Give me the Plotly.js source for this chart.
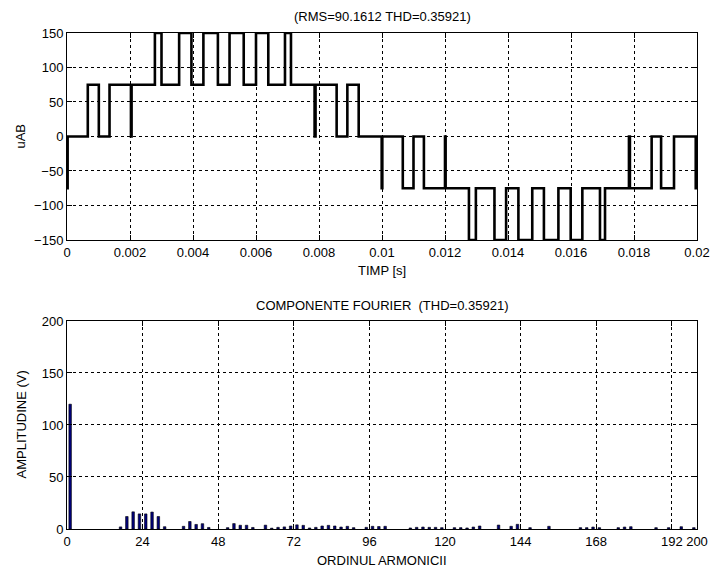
<!DOCTYPE html>
<html>
<head>
<meta charset="utf-8">
<script src="https://cdn.plot.ly/plotly-3.0.1.min.js"></script>
<style>
  html, body { margin: 0; padding: 0; background: #ffffff; }
  #chart { width: 710px; height: 567px; }
</style>
</head>
<body>
<div id="chart"></div>
<script>
// Line-to-line voltage uAB over one period (switching instants and levels, step-after)
const timeS = [0, 0.00002, 0.00066, 0.00101, 0.00135, 0.00203, 0.00205, 0.00279, 0.0030,
  0.00356, 0.00395, 0.00433, 0.00479, 0.00516, 0.00561, 0.0060, 0.00639, 0.00692, 0.00711,
  0.00786, 0.00789, 0.00856, 0.0089, 0.00926, 0.00999, 0.01001, 0.01066, 0.0110, 0.01133,
  0.0120, 0.01202, 0.01276, 0.01298, 0.01357, 0.01394, 0.01433, 0.01477, 0.01514, 0.0156,
  0.01599, 0.01636, 0.01692, 0.01708, 0.01784, 0.01787, 0.01856, 0.01886, 0.01927, 0.01996, 0.02];
const uAB = [-75, 0, 75, 0, 75, 0, 75, 150, 75,
  150, 75, 150, 75, 150, 75, 150, 75, 150, 75,
  0, 75, 0, 75, 0, -75, 0, -75, 0, -75,
  0, -75, -150, -75, -150, -75, -150, -75, -150, -75,
  -150, -75, -150, -75, 0, -75, 0, -75, 0, -75, -75];

// Fourier spectrum: harmonic order and amplitude (V)
const harmonicOrder = [1, 17, 19, 21, 23, 25, 27, 29, 31, 37, 39, 41, 43, 45, 51, 53, 55, 57, 59,
  63, 65, 67, 69, 71, 73, 75, 77, 79, 81, 83, 85, 87, 89, 91, 95, 97, 99, 101, 109, 111, 113,
  115, 117, 119, 123, 125, 127, 129, 131, 137, 141, 143, 147, 153, 163, 165, 167, 169, 175,
  177, 179, 187, 191, 195, 199];
const amplitudeV = [120, 2, 12, 16.5, 14.5, 14.5, 16.3, 12, 2.2, 2.6, 7.2, 4.4, 5.1, 1.5, 1.3, 5.2,
  3.6, 3.6, 1.5, 3.7, 0.8, 1.6, 2, 2.9, 4, 3.5, 1, 1.6, 2.9, 3.5, 2.9, 1.9, 2.6, 1.3, 1.6, 2.6,
  2.4, 2.6, 1, 1.6, 1.9, 1.6, 1.6, 1.3, 1.3, 1.3, 1, 1.9, 2.9, 3.8, 2.6, 4.5, 1.3, 2.6, 1.3,
  1.3, 1.9, 1.3, 1.3, 1.9, 2.2, 1.3, 1.3, 2.2, 1.3];

// Axis ticks
const timeTicks = [0, 0.002, 0.004, 0.006, 0.008, 0.01, 0.012, 0.014, 0.016, 0.018, 0.02];
const timeTickText = ['0', '0.002', '0.004', '0.006', '0.008', '0.01', '0.012', '0.014', '0.016', '0.018', '0.02'];
const voltTicks = [-150, -100, -50, 0, 50, 100, 150];
const orderTicks = [0, 24, 48, 72, 96, 120, 144, 168, 192, 200];
const ampTicks = [0, 50, 100, 150, 200];

// Labels
const topTitle = '(RMS=90.1612 THD=0.35921)';
const topXTitle = 'TIMP [s]';
const topYTitle = 'uAB';
const bottomTitle = 'COMPONENTE FOURIER  (THD=0.35921)';
const bottomXTitle = 'ORDINUL ARMONICII';
const bottomYTitle = 'AMPLITUDINE (V)';

const FONT = '"Liberation Sans Narrow", "Arial Narrow", "Liberation Sans", Arial, sans-serif';

function axisStyle(extra) {
  return Object.assign({
    showline: true, linecolor: '#000', linewidth: 1, mirror: 'ticks',
    ticks: 'inside', ticklen: 5, tickcolor: '#000', tickwidth: 1,
    showgrid: true, gridcolor: '#000', griddash: 'dot', gridwidth: 1,
    zeroline: false, tickangle: 0, fixedrange: true,
    tickfont: { family: FONT, size: 13, color: '#000' }
  }, extra);
}

const traces = [
  {
    x: timeS, y: uAB, type: 'scatter', mode: 'lines',
    line: { shape: 'hv', color: '#000', width: 2.6 },
    xaxis: 'x', yaxis: 'y', hoverinfo: 'skip'
  },
  {
    x: harmonicOrder, y: amplitudeV, type: 'bar', width: 0.8,
    marker: { color: '#00007c', line: { color: '#000', width: 0.6 } },
    xaxis: 'x2', yaxis: 'y2', hoverinfo: 'skip'
  }
];

const textFont = { family: FONT, size: 13, color: '#000' };
function label(text, x, y, angle) {
  return { text: text, x: x, y: y, xref: 'paper', yref: 'paper', showarrow: false,
    font: textFont, textangle: angle || 0, xanchor: 'center', yanchor: 'middle' };
}

const layout = {
  width: 710, height: 567,
  margin: { l: 67, r: 13, t: 33, b: 38 },
  paper_bgcolor: '#fff', plot_bgcolor: '#fff',
  showlegend: false,
  bargap: 0,
  xaxis: axisStyle({ domain: [0, 1], range: [0, 0.02], tickvals: timeTicks, ticktext: timeTickText, anchor: 'y' }),
  yaxis: axisStyle({ domain: [0.5827, 1], range: [-150, 150], tickvals: voltTicks, anchor: 'x' }),
  xaxis2: axisStyle({ domain: [0, 1], range: [0, 200], tickvals: orderTicks, anchor: 'y2' }),
  yaxis2: axisStyle({ domain: [0, 0.4194], range: [0, 200], tickvals: ampTicks, anchor: 'x2' }),
  annotations: [
    label(topTitle, 0.5, 1.034),
    label(topXTitle, 0.5, 0.522),
    label(topYTitle, -0.074, 0.792, -90),
    label(bottomTitle, 0.5, 0.4496),
    label(bottomXTitle, 0.5, -0.0625),
    label(bottomYTitle, -0.072, 0.21, -90)
  ]
};

Plotly.newPlot('chart', traces, layout, { displayModeBar: false, staticPlot: true });
</script>
</body>
</html>
